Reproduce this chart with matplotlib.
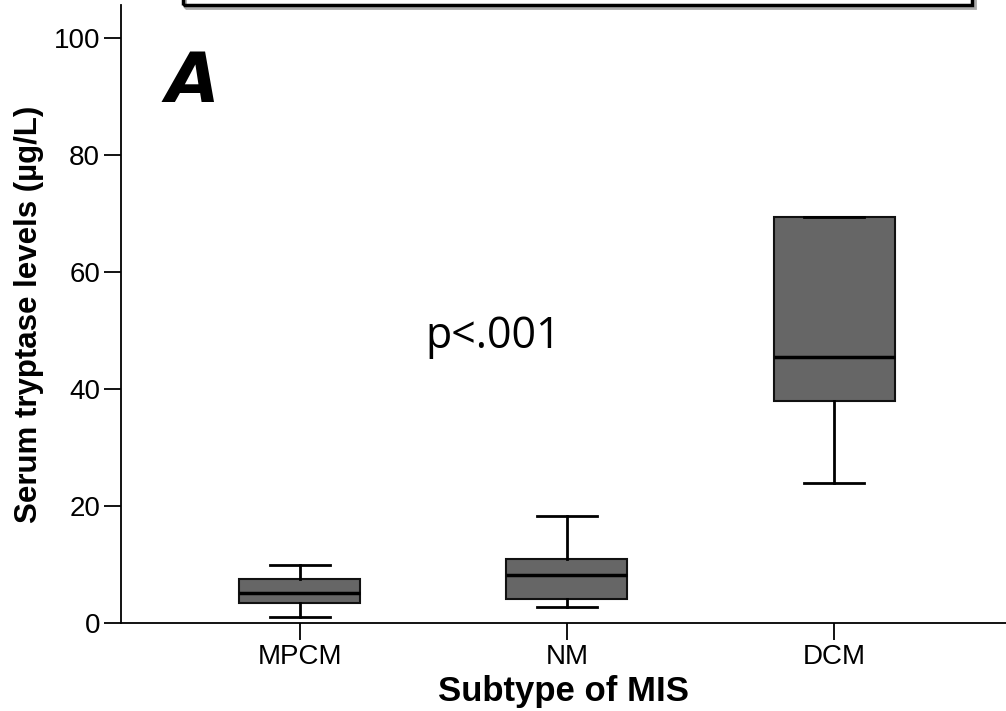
import matplotlib
matplotlib.use("Agg")
import matplotlib.pyplot as plt
from matplotlib.patches import Rectangle

groups = ["MPCM", "NM", "DCM"]
whislo = [1.0, 2.7, 23.9]
q1 = [3.4, 4.1, 37.9]
med = [5.1, 8.2, 45.5]
q3 = [7.5, 10.9, 69.4]
whishi = [9.9, 18.3, 69.4]

plt.rcParams['font.family'] = ['Liberation Sans', 'DejaVu Sans']

stats = []
for i, g in enumerate(groups):
    stats.append({"label": g, "whislo": whislo[i], "q1": q1[i], "med": med[i],
                  "q3": q3[i], "whishi": whishi[i], "fliers": []})

fig = plt.figure(figsize=(10.06, 7.11), dpi=100)
ax = fig.add_axes([0.1203, 0.1238, 0.8797, 0.8692])

ax.bxp(stats, positions=[1, 2, 3], widths=0.453, patch_artist=True,
       capwidths=0.225,
       boxprops=dict(facecolor="#666666", edgecolor="#111111", linewidth=1.5),
       medianprops=dict(color="black", linewidth=2.5),
       whiskerprops=dict(color="black", linewidth=2),
       capprops=dict(color="black", linewidth=2))

ax.set_xlim(0.33, 3.644)
ax.set_ylim(0, 105.6)
ax.set_yticks([0, 20, 40, 60, 80, 100])
ax.spines['top'].set_visible(False)
ax.spines['right'].set_visible(False)
ax.spines['left'].set_linewidth(1.3)
ax.spines['bottom'].set_linewidth(1.3)
ax.tick_params(axis='both', length=12, width=1.3, labelsize=20, pad=3)

ax.set_ylabel("Serum tryptase levels (µg/L)", fontsize=22.5, fontweight='bold', labelpad=7)
ax.set_xlabel("Subtype of MIS", fontsize=25, fontweight='bold', labelpad=4)

ax.text(0.596, 92.3, "A", fontsize=50, fontweight='bold', fontstyle='italic',
        family=['DejaVu Sans'], va='center', ha='center')
ax.text(1.469, 47.0, "p<.001", fontsize=31, family=['Open Sans', 'DejaVu Sans'],
        va='baseline', ha='left')

# partially visible frame at top of the figure
fig.patches.append(Rectangle((185 / 1006, (711 - 8) / 711), (975 - 185) / 1006, 0.05,
                             transform=fig.transFigure, fill=False,
                             edgecolor="#aaaaaa", linewidth=2, clip_on=False))
fig.patches.append(Rectangle((183 / 1006, (711 - 5) / 711), (972 - 183) / 1006, 0.05,
                             transform=fig.transFigure, fill=False,
                             edgecolor="black", linewidth=2.5, clip_on=False))

fig.savefig("out.png", dpi=100)
